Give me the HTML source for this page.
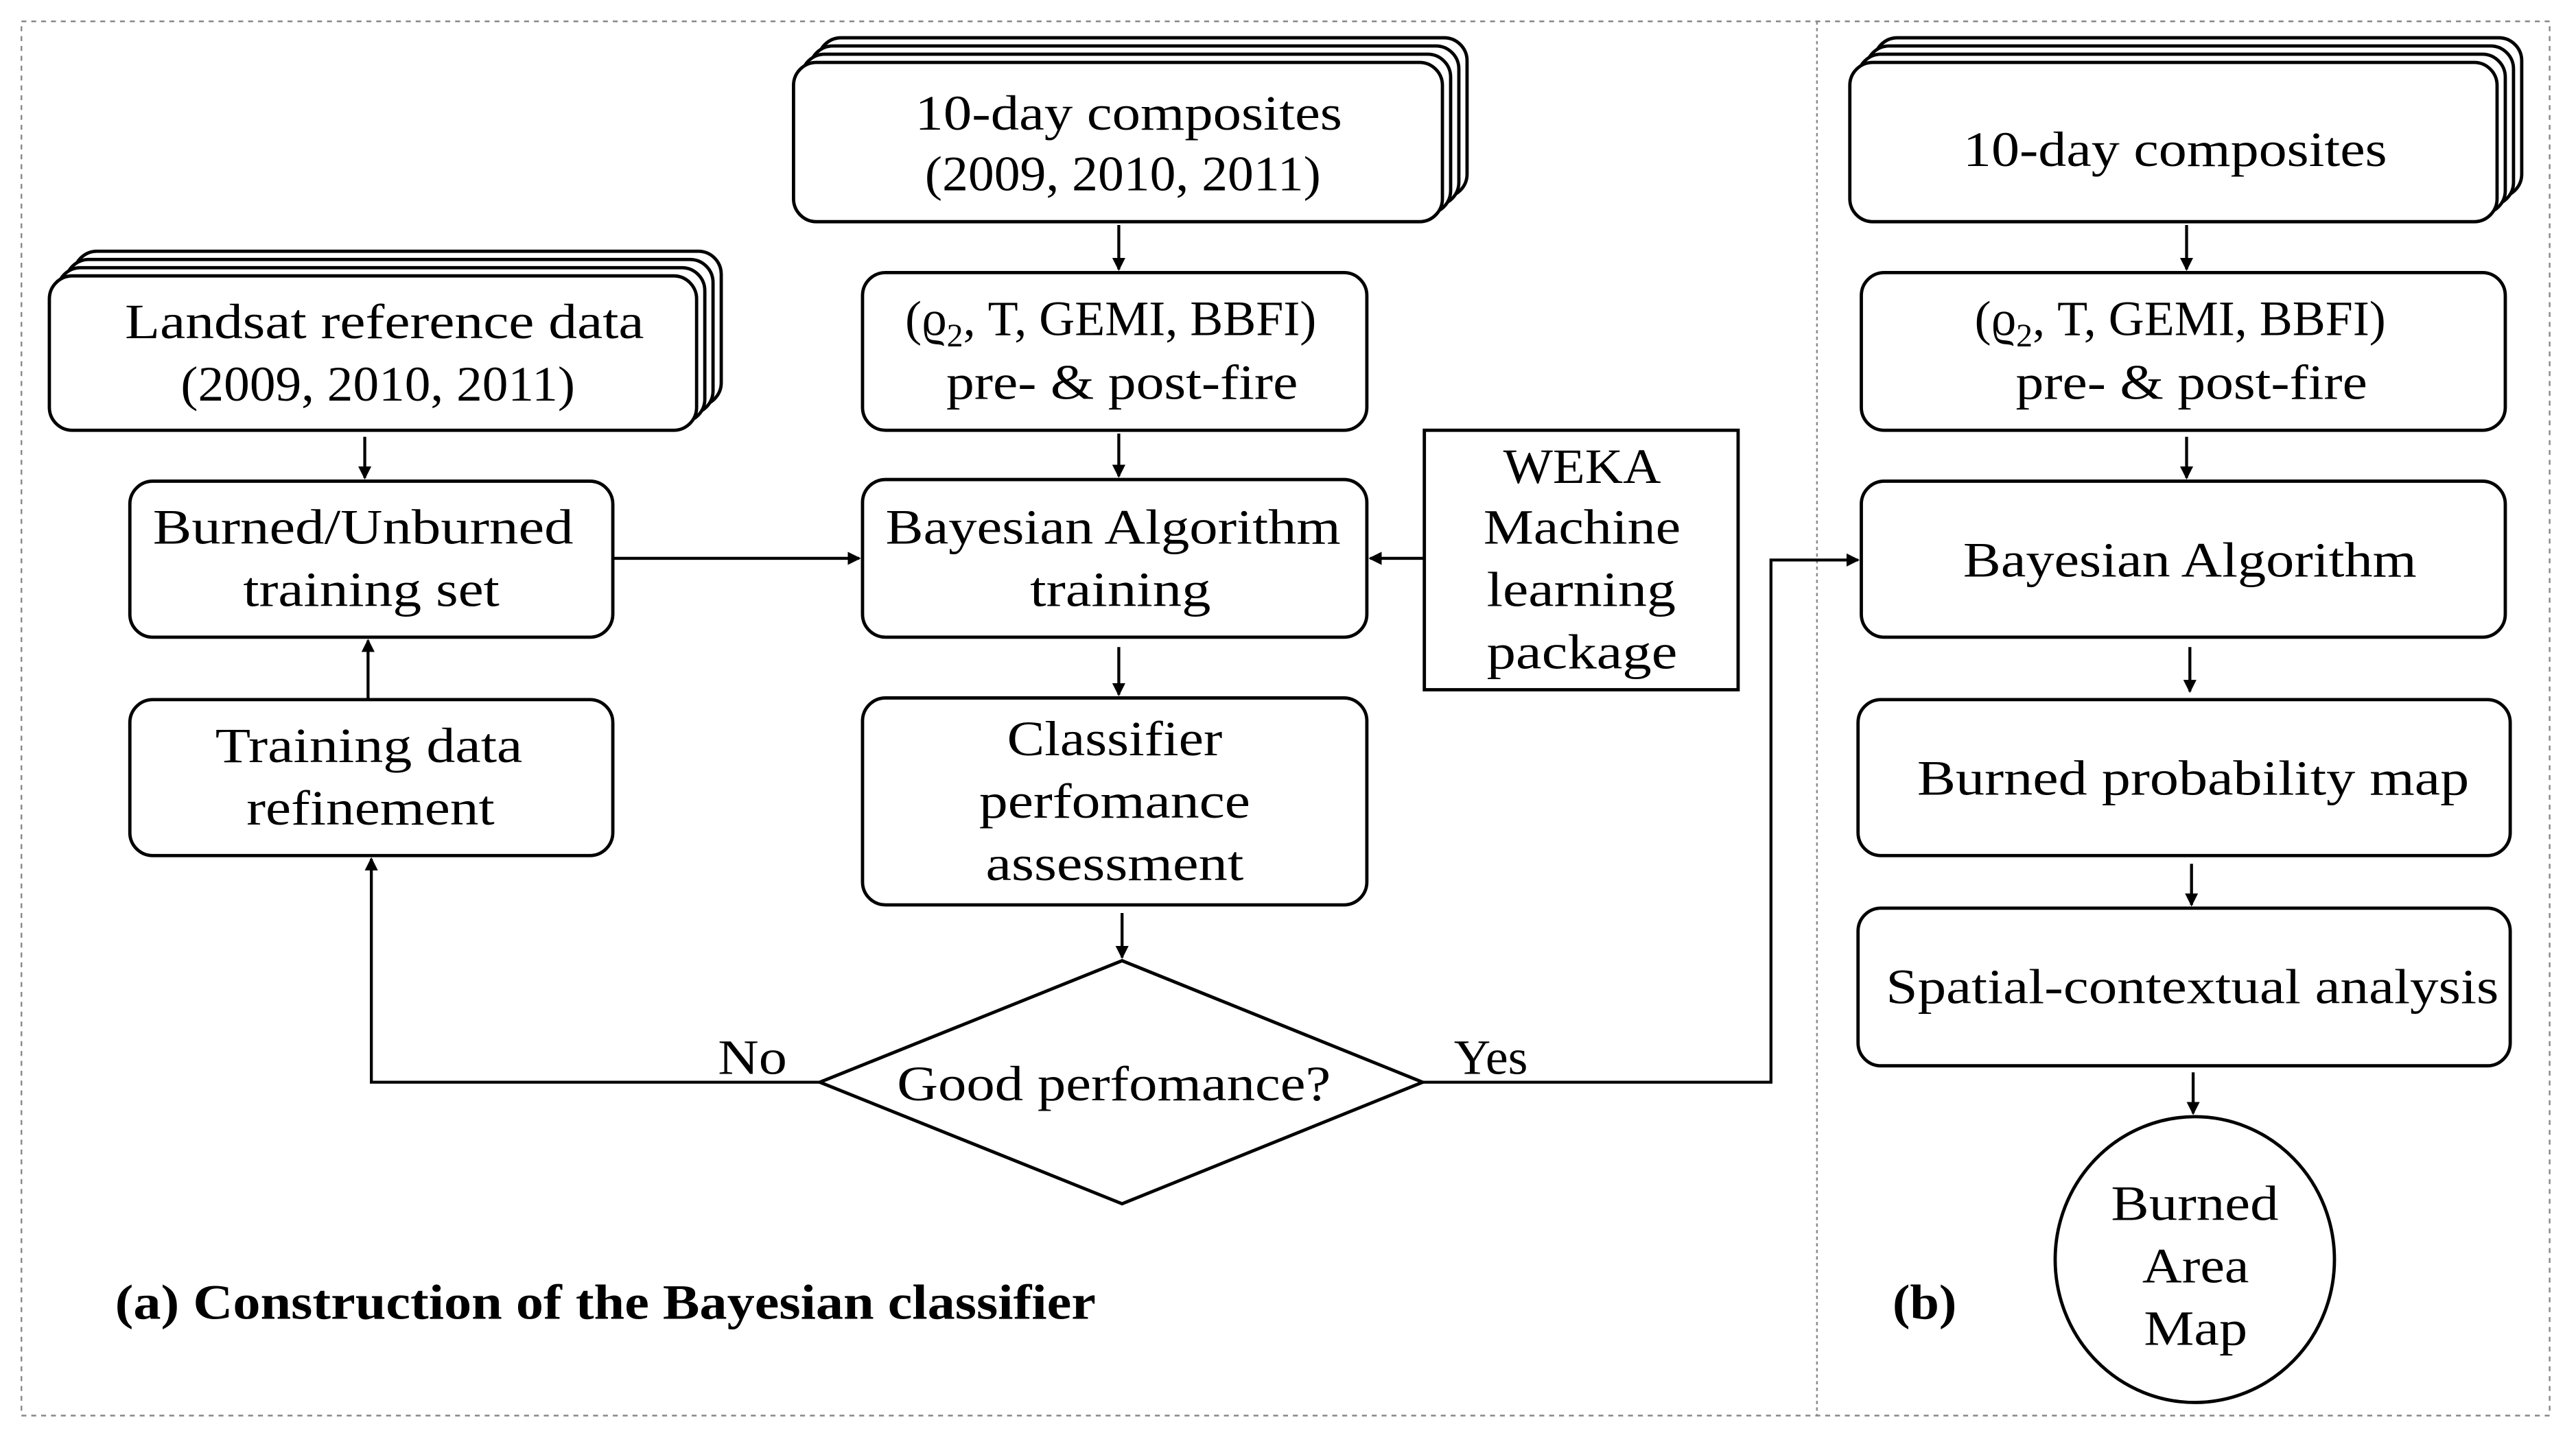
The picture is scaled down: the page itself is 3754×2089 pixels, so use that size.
<!DOCTYPE html>
<html><head><meta charset="utf-8"><style>html,body{margin:0;padding:0;background:#fff}svg{display:block}</style></head><body>
<svg width="3754" height="2089" viewBox="0 0 1568 872.6" xmlns="http://www.w3.org/2000/svg" font-family="'Liberation Serif', serif" font-size="30" fill="none" stroke="#000" stroke-width="2">
<defs><marker id="a" markerWidth="8" markerHeight="8" refX="7" refY="4" orient="auto" markerUnits="userSpaceOnUse"><path d="M0,0 L8,4 L0,8 z" fill="#000" stroke="none"/></marker></defs>
<rect x="13" y="13" width="1539" height="849" stroke="#888" stroke-width="1" stroke-dasharray="3,3"/>
<line x1="1106" y1="13" x2="1106" y2="862" stroke="#888" stroke-width="1" stroke-dasharray="2,2"/>
<g fill="#fff">
<rect x="45" y="153" width="394" height="94" rx="14"/><rect x="40" y="158" width="394" height="94" rx="14"/><rect x="35" y="163" width="394" height="94" rx="14"/><rect x="30" y="168" width="394" height="94" rx="14"/>
<rect x="498" y="23" width="395" height="97" rx="14"/><rect x="493" y="28" width="395" height="97" rx="14"/><rect x="488" y="33" width="395" height="97" rx="14"/><rect x="483" y="38" width="395" height="97" rx="14"/>
<rect x="1141" y="23" width="394" height="97" rx="14"/><rect x="1136" y="28" width="394" height="97" rx="14"/><rect x="1131" y="33" width="394" height="97" rx="14"/><rect x="1126" y="38" width="394" height="97" rx="14"/>
<rect x="525" y="166" width="307" height="96" rx="14"/>
<rect x="79" y="293" width="294" height="95" rx="14"/>
<rect x="525" y="292" width="307" height="96" rx="14"/>
<rect x="867" y="262" width="191" height="158"/>
<rect x="79" y="426" width="294" height="95" rx="14"/>
<rect x="525" y="425" width="307" height="126" rx="14"/>
<path d="M499,659 L683,585 L866,659 L683,733 z"/>
<rect x="1133" y="166" width="392" height="96" rx="14"/>
<rect x="1133" y="293" width="392" height="95" rx="14"/>
<rect x="1131" y="426" width="397" height="95" rx="14"/>
<rect x="1131" y="553" width="397" height="96" rx="14"/>
<ellipse cx="1336" cy="767" rx="85" ry="87"/>
</g>
<g stroke-width="1.8" marker-end="url(#a)">
<line x1="681" y1="137" x2="681" y2="164"/><line x1="681" y1="264" x2="681" y2="290"/><line x1="681" y1="394" x2="681" y2="423"/><line x1="683" y1="556" x2="683" y2="583"/>
<line x1="222" y1="266" x2="222" y2="291"/><line x1="224" y1="426" x2="224" y2="390"/>
<line x1="373" y1="340" x2="523" y2="340"/><line x1="867" y1="340" x2="834" y2="340"/>
<polyline points="499,659 226,659 226,523"/>
<polyline points="866,659 1078,659 1078,341 1131,341"/>
<line x1="1331" y1="137" x2="1331" y2="164"/><line x1="1331" y1="266" x2="1331" y2="291"/><line x1="1333" y1="394" x2="1333" y2="421"/><line x1="1334" y1="526" x2="1334" y2="551"/><line x1="1335" y1="653" x2="1335" y2="678"/>
</g>
<g fill="#000" stroke="none">
<text x="557" y="79" textLength="260" lengthAdjust="spacingAndGlyphs">10-day composites</text><text x="563" y="116" textLength="241" lengthAdjust="spacingAndGlyphs">(2009, 2010, 2011)</text>
<text x="76" y="206" textLength="316" lengthAdjust="spacingAndGlyphs">Landsat reference data</text><text x="110" y="244" textLength="240" lengthAdjust="spacingAndGlyphs">(2009, 2010, 2011)</text>
<text x="1195" y="101" textLength="258" lengthAdjust="spacingAndGlyphs">10-day composites</text>
<text x="551" y="204">(ϱ<tspan font-size="20" dy="7">2</tspan><tspan dy="-7" textLength="215" lengthAdjust="spacingAndGlyphs">, T, GEMI, BBFI)</tspan></text><text x="576" y="243" textLength="214" lengthAdjust="spacingAndGlyphs">pre- &amp; post-fire</text>
<text x="1202" y="204">(ϱ<tspan font-size="20" dy="7">2</tspan><tspan dy="-7" textLength="215" lengthAdjust="spacingAndGlyphs">, T, GEMI, BBFI)</tspan></text><text x="1227" y="243" textLength="214" lengthAdjust="spacingAndGlyphs">pre- &amp; post-fire</text>
<text x="93" y="331" textLength="256" lengthAdjust="spacingAndGlyphs">Burned/Unburned</text><text x="148" y="369" textLength="156" lengthAdjust="spacingAndGlyphs">training set</text>
<text x="539" y="331" textLength="277" lengthAdjust="spacingAndGlyphs">Bayesian Algorithm</text><text x="627" y="369" textLength="110" lengthAdjust="spacingAndGlyphs">training</text>
<text x="915" y="294" textLength="96" lengthAdjust="spacingAndGlyphs">WEKA</text><text x="903" y="331" textLength="120" lengthAdjust="spacingAndGlyphs">Machine</text><text x="905" y="369" textLength="115" lengthAdjust="spacingAndGlyphs">learning</text><text x="905" y="407" textLength="116" lengthAdjust="spacingAndGlyphs">package</text>
<text x="131" y="464" textLength="187" lengthAdjust="spacingAndGlyphs">Training data</text><text x="150" y="502" textLength="151" lengthAdjust="spacingAndGlyphs">refinement</text>
<text x="613" y="460" textLength="131" lengthAdjust="spacingAndGlyphs">Classifier</text><text x="596" y="498" textLength="165" lengthAdjust="spacingAndGlyphs">perfomance</text><text x="600" y="536" textLength="157" lengthAdjust="spacingAndGlyphs">assessment</text>
<text x="546" y="670" textLength="264" lengthAdjust="spacingAndGlyphs">Good perfomance?</text>
<text x="437" y="654" textLength="42" lengthAdjust="spacingAndGlyphs">No</text><text x="885" y="654" textLength="45" lengthAdjust="spacingAndGlyphs">Yes</text>
<text x="1195" y="351" textLength="276" lengthAdjust="spacingAndGlyphs">Bayesian Algorithm</text>
<text x="1167" y="484" textLength="336" lengthAdjust="spacingAndGlyphs">Burned probability map</text>
<text x="1148" y="611" textLength="373" lengthAdjust="spacingAndGlyphs">Spatial-contextual analysis</text>
<text x="1285" y="743" textLength="102" lengthAdjust="spacingAndGlyphs">Burned</text><text x="1304" y="781" textLength="65" lengthAdjust="spacingAndGlyphs">Area</text><text x="1305" y="819" textLength="63" lengthAdjust="spacingAndGlyphs">Map</text>
<text x="70" y="803" font-weight="bold" textLength="597" lengthAdjust="spacingAndGlyphs">(a) Construction of the Bayesian classifier</text>
<text x="1152" y="803" font-weight="bold" textLength="39" lengthAdjust="spacingAndGlyphs">(b)</text>
</g>
</svg>
</body></html>
